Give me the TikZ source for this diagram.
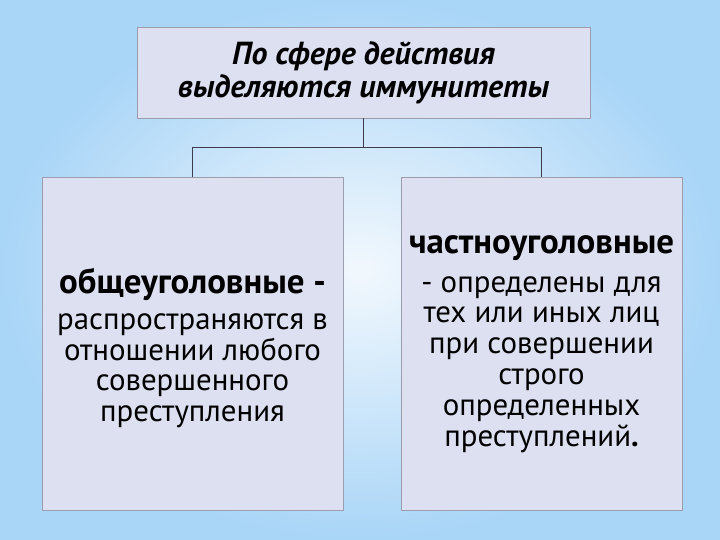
\documentclass[tikz,border=0pt]{standalone}
\usepackage{fontspec}
\setmainfont{PT Sans}
\definecolor{bgout}{HTML}{A9D5F7}
\definecolor{bgin}{HTML}{F2F8FD}
\definecolor{boxfill}{HTML}{DDE0F0}
\definecolor{boxline}{HTML}{9C9CAC}
\definecolor{conn}{HTML}{3C3C4C}
\tikzset{
  box/.style={draw=boxline, line width=0.8bp, fill=boxfill, inner sep=0pt, align=center, text=black},
  body/.style={font=\fontsize{31}{31}\selectfont, align=center, inner sep=0pt, text=black},
  connector/.style={draw=conn, line width=0.9bp}
}
\newcommand{\headline}[1]{{\fontsize{35}{31}\selectfont\bfseries #1}}
\begin{document}
\begin{tikzpicture}[x=1bp,y=-1bp]
\useasboundingbox (0,0) rectangle (720,540);
\shade[inner color=bgin, outer color=bgout] (0,0) rectangle (720,540);
\node[box, minimum width=453bp, minimum height=91bp, font=\fontsize{32}{33}\selectfont\bfseries\itshape] (top) at (363.5,72.5)
  {По сфере действия\\ выделяются иммунитеты};
\node[box, minimum width=301bp, minimum height=333bp] (left) at (192.5,343.5) {};
\node[body] (lefttext) at (192.5,348)
  {\headline{общеуголовные -}\\[5bp]
   распространяются в\\ отношении любого\\ совершенного\\ преступления};
\node[box, minimum width=281bp, minimum height=333bp] (right) at (541.5,343.5) {};
\node[body] (righttext) at (541.5,344)
  {\headline{частноуголовные}\\[8bp]
   - определены для\\ тех или иных лиц\\ при совершении\\ строго\\ определенных\\ преступлений{\bfseries.}};
\coordinate (mid) at (363.5,147);
\draw[connector] (top.south) -- (mid);
\draw[connector] (mid) -| (left.north);
\draw[connector] (mid) -| (right.north);
\end{tikzpicture}
\end{document}
